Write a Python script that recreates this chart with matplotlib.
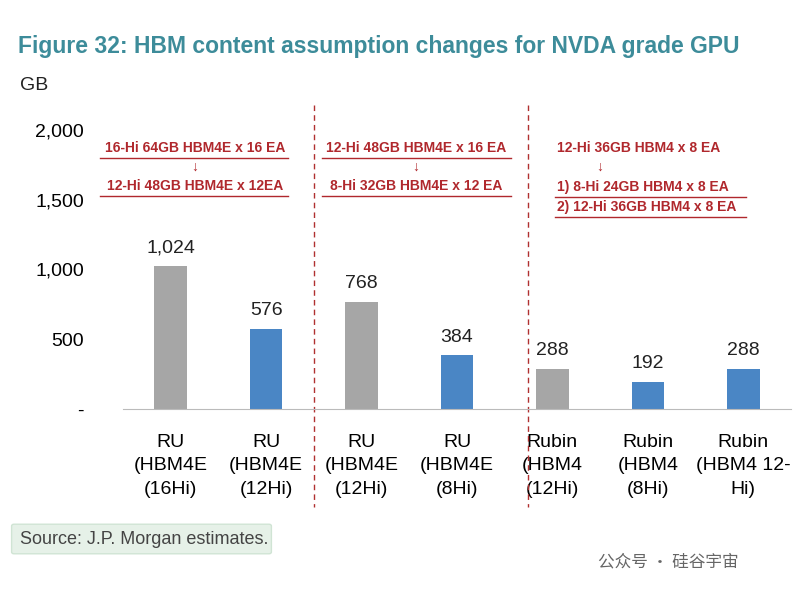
import matplotlib.pyplot as plt
from matplotlib.lines import Line2D
from matplotlib.patches import FancyBboxPatch

plt.rcParams["font.family"] = ["Liberation Sans", "DejaVu Sans"]

categories = ["RU\n(HBM4E\n(16Hi)", "RU\n(HBM4E\n(12Hi)", "RU\n(HBM4E\n(12Hi)", "RU\n(HBM4E\n(8Hi)",
              "Rubin\n(HBM4\n(12Hi)", "Rubin\n(HBM4\n(8Hi)", "Rubin\n(HBM4 12-\nHi)"]
values = [1024, 576, 768, 384, 288, 192, 288]
value_labels = ["1,024", "576", "768", "384", "288", "192", "288"]
is_base = [True, False, True, False, True, False, False]
yticks = [0, 500, 1000, 1500, 2000]
ytick_labels = ["-", "500", "1,000", "1,500", "2,000"]

W, H = 804, 592
fig = plt.figure(figsize=(W / 100, H / 100), dpi=100)
ax = fig.add_axes([123 / W, 1 - 409 / H, 668 / W, 279 / H])

colors = ["#a6a6a6" if b else "#4a86c5" for b in is_base]
x = list(range(len(values)))
ax.bar(x, values, width=0.34, color=colors)
for xi, v, lab in zip(x, values, value_labels):
    ax.text(xi, v + 70, lab, ha="center", va="bottom", fontsize=14, color="#222222")

ax.set_xlim(-0.5, 6.5)
ax.set_ylim(0, 2000)
ax.set_yticks(yticks)
ax.set_yticklabels(ytick_labels, fontsize=14)
ax.set_xticks(x)
ax.set_xticklabels(categories, fontsize=14, linespacing=1.5)
ax.tick_params(axis="y", length=0, pad=28)
ax.tick_params(axis="x", length=0, pad=18)
for s in ["top", "right", "left"]:
    ax.spines[s].set_visible(False)
ax.spines["bottom"].set_color("#bbbbbb")

# dashed separators
for xs in [1.5, 3.74]:
    ax.plot([xs, xs], [1.09, -0.35], transform=ax.get_xaxis_transform(),
            color="#b03030", ls=(0, (4, 3)), lw=1, clip_on=False)


def fpx(xp, yp):
    return xp / W, 1 - yp / H


red = "#b0282d"


def red_text(xp, yp, s, ha="center", underline=None):
    fig.text(*fpx(xp, yp), s, ha=ha, va="center", fontsize=10, color=red, weight="bold")
    if underline:
        x0, x1 = underline
        fig.add_artist(Line2D([x0 / W, x1 / W], [1 - (yp + 10) / H] * 2, color=red, lw=1))


red_text(195, 148, "16-Hi 64GB HBM4E x 16 EA", underline=(100, 288))
red_text(195, 167, "↓")
red_text(195, 186, "12-Hi 48GB HBM4E x 12EA", underline=(100, 288))
red_text(416, 148, "12-Hi 48GB HBM4E x 16 EA", underline=(322, 511))
red_text(416, 167, "↓")
red_text(416, 186, "8-Hi 32GB HBM4E x 12 EA", underline=(322, 511))
red_text(557, 148, "12-Hi 36GB HBM4 x 8 EA", ha="left")
red_text(600, 167, "↓")
red_text(557, 187, "1) 8-Hi 24GB HBM4 x 8 EA", ha="left", underline=(555, 746))
red_text(557, 207, "2) 12-Hi 36GB HBM4 x 8 EA", ha="left", underline=(555, 746))

fig.text(*fpx(18, 46), "Figure 32: HBM content assumption changes for NVDA grade GPU",
         fontsize=16.5, weight="bold", color="#3d8c9a", va="center")
fig.text(*fpx(20, 86), "GB", fontsize=14, va="center", color="#222222")

box = FancyBboxPatch((14 / W, 1 - 552 / H), 255 / W, 26 / H, boxstyle="round,pad=0.003",
                     transform=fig.transFigure, facecolor="#e6f1e8", edgecolor="#d0e4d4")
fig.add_artist(box)
fig.text(*fpx(20, 540), "Source: J.P. Morgan estimates.", fontsize=13, va="center", color="#444444")
fig.text(*fpx(598, 562), "公众号 · 硅谷宇宙", fontsize=12, va="center", color="#666666",
         family=["Noto Sans CJK SC", "DejaVu Sans"])

fig.savefig("out.png", dpi=100, facecolor="white")
